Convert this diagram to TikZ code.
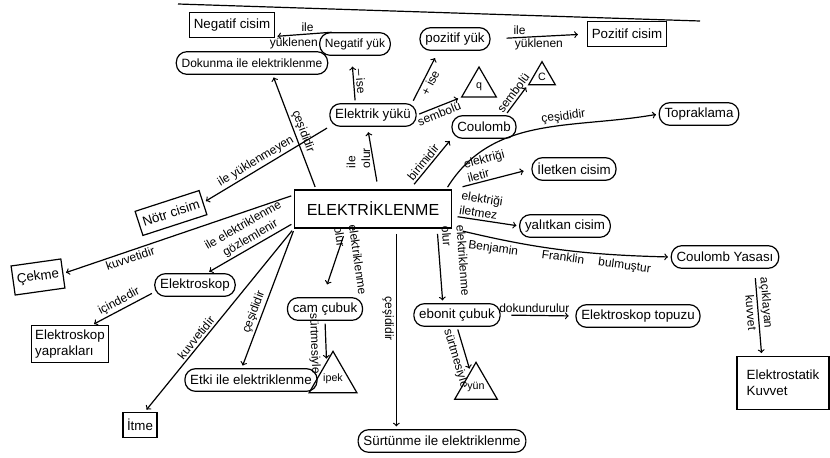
\documentclass[tikz,border=0pt]{standalone}
\usepackage{fontspec}
\setmainfont{Liberation Sans}
\usetikzlibrary{shapes.geometric}

\begin{document}
\begin{tikzpicture}[
    x=0.75pt, y=0.75pt,
    line width=0.9pt,
    every node/.style={font=\normalsize},
    box/.style={rectangle, draw, inner sep=3pt, minimum height=19pt},
    oval/.style={rectangle, rounded corners=8pt, draw, inner xsep=4pt, minimum height=17pt},
    tri/.style={regular polygon, regular polygon sides=3, draw, inner sep=0pt, font=\footnotesize},
    lbl/.style={font=\small, inner sep=1.5pt},
    arr/.style={->, shorten >=2pt, shorten <=2pt}
  ]
  \useasboundingbox (0,0) rectangle (830,-457);
  \draw (178,-4) -- (700,-21);

  \node[box, minimum width=118pt, minimum height=28.5pt, font=\large] (el) at (373,-209) {ELEKTRİKLENME};
  \node[oval, font=\small] (dok) at (252,-63) {Dokunma ile elektriklenme};
  \node[box] (ncis) at (232,-25) {Negatif cisim};
  \node[oval, font=\small] (nyuk) at (355,-44) {Negatif yük};
  \node[oval] (pyuk) at (455,-39) {pozitif yük};
  \node[box] (pcis) at (627,-34) {Pozitif cisim};
  \node[tri, minimum size=30pt] (qtri) at (479,-87) {q};
  \node[tri, minimum size=23pt] (ctri) at (542,-77) {C};
  \node[oval] (eyuk) at (373,-115) {Elektrik yükü};
  \node[oval] (coul) at (484,-127) {Coulomb};
  \node[oval] (topr) at (699,-114) {Topraklama};
  \node[oval] (ilet) at (574,-169) {İletken cisim};
  \node[oval] (yalt) at (565,-226) {yalıtkan cisim};
  \node[box, rotate=18] (notr) at (171,-213) {Nötr cisim};
  \node[box, rotate=8, minimum height=22pt] (cekme) at (38,-277) {Çekme};
  \node[oval] (eskop) at (195,-285) {Elektroskop};
  \node[box, align=left] (yaprak) at (70,-344) {Elektroskop\\yaprakları};
  \node[box] (itme) at (140,-425) {İtme};
  \node[oval] (etki) at (251,-380) {Etki ile elektriklenme};
  \node[tri, minimum size=33pt] (ipek) at (333,-379) {ipek};
  \node[oval] (cam) at (325,-309) {cam çubuk};
  \node[oval] (surt) at (442,-441) {Sürtünme ile elektriklenme};
  \node[oval] (ebonit) at (457,-315) {ebonit çubuk};
  \node[tri, minimum size=37pt] (yun) at (476,-387) {yün};
  \node[oval] (topuz) at (638,-316) {Elektroskop topuzu};
  \node[oval] (cyasa) at (725,-257) {Coulomb Yasası};
  \node[box, align=left, minimum width=69pt, minimum height=40pt] (estat) at (783,-383) {Elektrostatik\\Kuvvet};

  \draw[arr] (el.161) -- (dok.-30) node[lbl, pos=.48, sloped, above] {çeşididir};
  \draw[arr, shorten <=6pt, shorten >=4pt] (el.75) -- (eyuk.-115) node[lbl, pos=.5, rotate=90, anchor=south, align=left] {ile\\olur};
  \draw[arr, shorten >=8pt] (eyuk.146) -- (nyuk.-106) node[lbl, pos=.45, sloped, above] {-- ise};
  \draw[arr, shorten >=6pt] (eyuk.17) -- (pyuk.-144) node[lbl, pos=.45, sloped, below] {+ ise};
  \draw[arr] (eyuk.east) -- (qtri.corner 2) node[lbl, pos=.45, sloped, below] {sembolü};
  \draw[arr] (coul.29) -- (ctri.corner 2) node[lbl, pos=.6, sloped, above] {sembolü};
  \draw[arr, shorten <=5pt] (el.28.5) -- (coul.-160) node[lbl, pos=.45, sloped, above] {birimidir};
  \draw[arr] (nyuk.150) -- (ncis.-15) node[lbl, pos=.45, above] {ile} node[lbl, pos=.68, below] {yüklenen};
  \draw[arr, shorten <=12pt, shorten >=7pt] (pyuk.east) -- (pcis.west) node[lbl, pos=.3, above] {ile} node[lbl, pos=.5, below] {yüklenen};
  \draw[arr] (el.15.2) to[out=58, in=190] node[lbl, pos=.62, sloped, above] {çeşididir} (topr.west);
  \draw[arr, shorten <=8pt, shorten >=6pt] (el.north east) -- (ilet.west) node[lbl, pos=.47, sloped, above, align=left] {elektriği\\iletir};
  \draw[arr, shorten <=4pt] (el.-5) -- (yalt.west) node[lbl, pos=.4, sloped, above, align=left] {elektriği\\iletmez};
  \draw[arr, shorten <=8pt] (el.south east) to[bend right=6] node[lbl, pos=.5, sloped, below] {Benjamin\hspace{2em}Franklin\hspace{1.2em}bulmuştur} (cyasa.west);
  \draw[arr, shorten <=7pt] (cyasa.-22) -- (estat.128) node[lbl, pos=.4, sloped, above] {açıklayan} node[lbl, pos=.5, sloped, below] {kuvvet};
  \draw[arr] (eyuk.-165) -- (notr.east) node[lbl, pos=.55, sloped, above] {ile yüklenmeyen};
  \draw[arr] (el.170) -- (cekme.east) node[lbl, pos=.72, sloped, below] {kuvvetidir};
  \draw[arr] (el.190) -- (eskop.45) node[lbl, pos=.45, sloped, above, align=center] {ile elektriklenme\\gözlemlenir};
  \draw[arr] (eskop.-170) -- (yaprak.41) node[lbl, pos=.5, sloped, above] {içindedir};
  \draw[arr] (el.south west) -- (itme.70) node[lbl, pos=.62, sloped, above] {kuvvetidir};
  \draw[arr] (el.194.6) -- (etki.128) node[lbl, pos=.62, sloped, above] {çeşididir};
  \draw[arr, shorten <=6pt, shorten >=10pt] (el.216.2) -- (cam.100) node[lbl, pos=.5, rotate=-82, anchor=south, inner sep=3pt, align=left] {elektriklenme\\olur};
  \draw[arr] (cam.south) -- (ipek.110) node[lbl, pos=.55, sloped, below, inner sep=4pt] {sürtmesiyle};
  \draw[arr, shorten <=4pt] (el.-40.8) -- (el.-40.8 |- surt.north) node[lbl, pos=.45, sloped, below] {çeşididir};
  \draw[arr, shorten <=4pt] (el.-17.8) -- (ebonit.140) node[lbl, pos=.45, sloped, above, inner sep=3pt, align=left] {elektriklenme\\olur};
  \draw[arr] (ebonit.south) -- (yun.110) node[lbl, pos=.65, sloped, below, inner sep=3pt] {sürtmesiyle};
  \draw[arr, shorten <=8pt, shorten >=5pt] (ebonit.east) -- (topuz.west) node[lbl, pos=.45, above] {dokundurulur};
\end{tikzpicture}
\end{document}
